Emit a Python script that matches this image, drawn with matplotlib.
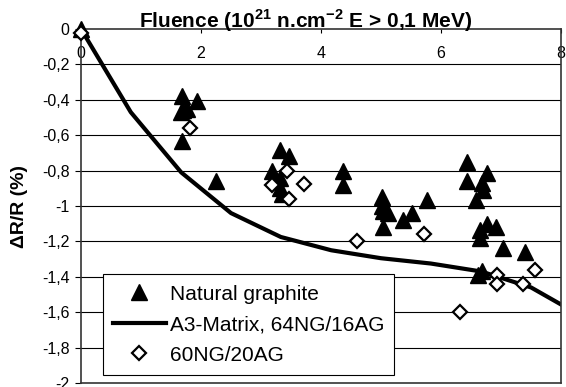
import matplotlib.pyplot as plt
import numpy as np

plt.rcParams['font.family'] = ['Liberation Sans', 'DejaVu Sans']
plt.rcParams['mathtext.fontset'] = 'custom'
plt.rcParams['mathtext.rm'] = 'Liberation Sans'
plt.rcParams['mathtext.bf'] = 'Liberation Sans:bold'

# A3-Matrix, 64NG/16AG model curve
model_x = [0, 0.83, 1.67, 2.5, 3.33, 4.17, 5.0, 5.83, 6.67, 7.5, 8.33]
model_y = [0, -0.47, -0.81, -1.04, -1.175, -1.25, -1.295, -1.325, -1.37, -1.46, -1.62]

# Natural graphite (triangles)
ng_x = [0, 1.68, 1.93, 1.70, 1.76, 1.67, 1.68, 2.25,
        3.32, 3.46, 3.18, 3.32, 3.32, 3.35, 4.37, 4.37,
        5.01, 5.01, 5.04, 5.12, 5.04, 5.37, 5.51, 5.76,
        6.43, 6.43, 6.76, 6.68, 6.70, 6.59, 6.76, 6.65, 6.65, 6.92,
        7.03, 7.40, 6.68, 6.62]
ng_y = [0, -0.38, -0.405, -0.46, -0.45, -0.47, -0.63, -0.86,
        -0.684, -0.72, -0.80, -0.84, -0.90, -0.93, -0.80, -0.88,
        -0.95, -1.00, -1.03, -1.04, -1.12, -1.08, -1.04, -0.966,
        -0.75, -0.86, -0.815, -0.87, -0.91, -0.966, -1.10, -1.135, -1.18, -1.12,
        -1.24, -1.26, -1.37, -1.39]

# 60NG/20AG (open diamonds)
ag_x = [0, 1.82, 3.43, 3.18, 3.71, 3.46, 4.60, 5.72, 6.93, 6.93, 7.36, 7.57, 6.32]
ag_y = [-0.02, -0.56, -0.80, -0.88, -0.877, -0.96, -1.20, -1.16, -1.39, -1.44, -1.44, -1.36, -1.60]

yticks = np.round(np.arange(0, -2.01, -0.2), 1)
ytick_labels = ['0', '-0,2', '-0,4', '-0,6', '-0,8', '-1', '-1,2', '-1,4', '-1,6', '-1,8', '-2']
xticks = [0, 2, 4, 6, 8]

fig = plt.figure(figsize=(5.66, 3.87), dpi=100)
ax = fig.add_axes([81 / 566, 1 - 383 / 387, 480 / 566, 354 / 387])

for y in yticks[1:-1]:
    ax.axhline(y, color='black', lw=0.8, zorder=1)

ax.plot(ng_x, ng_y, linestyle='none', marker='^', ms=11, color='black',
        label='Natural graphite', zorder=3, clip_on=False)
ax.plot(model_x, model_y, color='black', lw=3, label='A3-Matrix, 64NG/16AG', zorder=2)
ax.plot(ag_x, ag_y, linestyle='none', marker='D', ms=7, mfc='white', mec='black',
        mew=1.6, label='60NG/20AG', zorder=4, clip_on=False)

ax.set_xlim(0, 8)
ax.set_ylim(-2, 0)
ax.set_yticks(yticks)
ax.set_yticklabels(ytick_labels)
ax.set_xticks(xticks)
ax.xaxis.tick_top()
ax.tick_params(axis='x', direction='in', length=3, pad=-12.5, labelsize=11.5)
ax.tick_params(axis='y', direction='out', length=4.3, labelsize=11.5, pad=4)
for lab in ax.get_xticklabels():
    lab.set_verticalalignment('top')

for s in ax.spines.values():
    s.set_color('#333333')
    s.set_linewidth(1.2)

fig.text(20 / 566, 1 - 206 / 387, 'ΔR/R (%)', rotation=90, ha='center', va='center',
         fontsize=14, fontweight='bold')
fig.text(306 / 566, 1 - 28 / 387, 'Fluence (10$^{\\mathbf{21}}$ n.cm$^{\\mathbf{-2}}$ E > 0,1 MeV)',
         ha='center', va='baseline', fontsize=15, fontweight='bold')

leg = ax.legend(loc='lower left', bbox_to_anchor=(22 / 480, 8 / 354), fontsize=15,
                frameon=True, fancybox=False, edgecolor='black', framealpha=1,
                handlelength=2.5, handletextpad=0.2, borderaxespad=0, borderpad=0.5,
                labelspacing=0.55)
leg.get_frame().set_linewidth(0.8)

fig.savefig('out.png', dpi=100)
